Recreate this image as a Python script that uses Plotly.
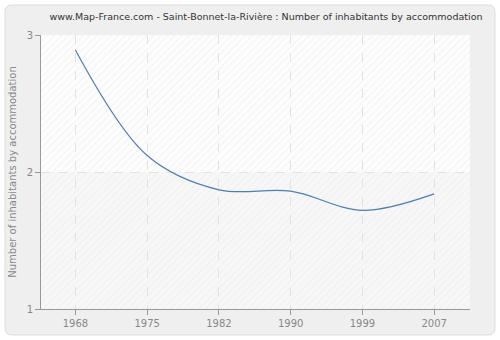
import plotly.graph_objects as go

years = ["1968", "1975", "1982", "1990", "1999", "2007"]
values = [2.89, 2.12, 1.87, 1.86, 1.72, 1.84]
y_ticks = [1, 2, 3]

W, H = 500, 340
L, R, T, B = 41, 470, 35, 309

def px_x(px):
    return (px - L) / (R - L)

def px_y(py):
    return (B - py) / (B - T)

def rounded_path(x0, y0, x1, y1, r):
    def P(x, y):
        return f"{px_x(x):.5f},{px_y(y):.5f}"
    d = (f"M {P(x0 + r, y0)} L {P(x1 - r, y0)} Q {P(x1, y0)} {P(x1, y0 + r)} "
         f"L {P(x1, y1 - r)} Q {P(x1, y1)} {P(x1 - r, y1)} "
         f"L {P(x0 + r, y1)} Q {P(x0, y1)} {P(x0, y1 - r)} "
         f"L {P(x0, y0 + r)} Q {P(x0, y0)} {P(x0 + r, y0)} Z")
    return d

xi = list(range(len(years)))
x_lo, x_hi = -0.48, 5.5

fig = go.Figure()

# hatch overlay for plot area
fig.add_trace(go.Scatter(
    x=[x_lo, x_hi, x_hi, x_lo, x_lo], y=[1, 1, 3, 3, 1],
    mode="lines", line=dict(width=0), fill="toself",
    fillcolor="rgba(0,0,0,0)",
    fillpattern=dict(shape="/", fgcolor="#e6e6e6", bgcolor="rgba(0,0,0,0)",
                     size=5, solidity=0.2),
    hoverinfo="skip", showlegend=False))

fig.add_trace(go.Scatter(
    x=xi, y=values, mode="lines",
    line=dict(color="#4f7db5", width=1.2, shape="spline", smoothing=1.0),
    showlegend=False, hoverinfo="skip"))

shapes = [
    dict(type="path", path=rounded_path(5, 5, 495, 335, 7), xref="paper", yref="paper",
         fillcolor="#efefef", line=dict(color="#dcdcdc", width=1), layer="below"),
    dict(type="rect", xref="paper", yref="paper", x0=0, x1=1, y0=0.5, y1=1,
         fillcolor="#fdfdfd", line=dict(width=0), layer="below"),
    dict(type="rect", xref="paper", yref="paper", x0=0, x1=1, y0=0, y1=0.5,
         fillcolor="#f7f7f7", line=dict(width=0), layer="below"),
]

fig.update_layout(
    width=W, height=H,
    margin=dict(l=L, r=W - R, t=T, b=H - B, pad=0),
    paper_bgcolor="#ffffff",
    plot_bgcolor="rgba(0,0,0,0)",
    shapes=shapes,
    title=dict(text="www.Map-France.com - Saint-Bonnet-la-Rivière : Number of inhabitants by accommodation",
               x=266 / W, xanchor="center", xref="container",
               y=1 - 17 / H, yanchor="middle", yref="container",
               font=dict(family="DejaVu Sans", size=9.5, color="#333333")),
    font=dict(family="DejaVu Sans", size=10, color="#888888"),
    xaxis=dict(range=[x_lo, x_hi], tickvals=xi, ticktext=years,
               showgrid=True, gridcolor="#e2e2e2", griddash="dash", gridwidth=1,
               showline=True, linecolor="#999999", linewidth=1,
               ticks="outside", ticklen=5, tickcolor="#999999",
               zeroline=False, tickfont=dict(size=10, color="#888888")),
    yaxis=dict(range=[1, 3], tickvals=y_ticks, ticktext=[str(v) for v in y_ticks],
               showgrid=True, gridcolor="#e2e2e2", griddash="dash", gridwidth=1,
               showline=True, linecolor="#999999", linewidth=1,
               ticks="outside", ticklen=5, tickcolor="#999999",
               zeroline=False, tickfont=dict(size=10, color="#888888"),
               title=dict(text="Number of inhabitants by accommodation",
                          font=dict(size=10, color="#888888"), standoff=8)),
)

fig.write_html("out.html")
